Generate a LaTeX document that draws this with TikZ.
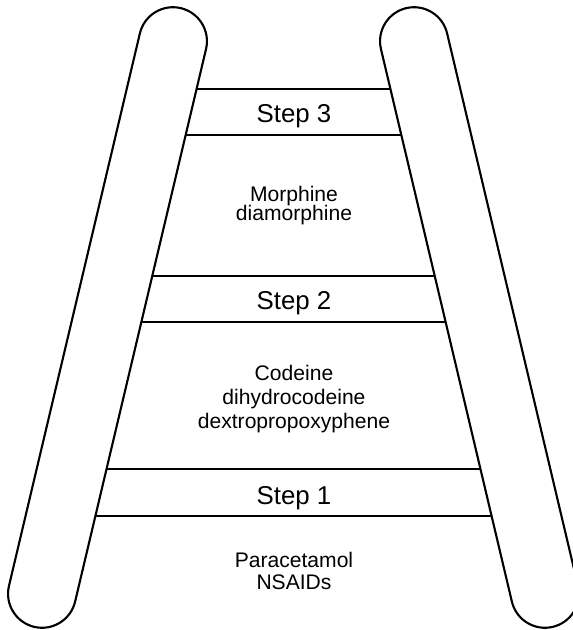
\documentclass[tikz,border=0pt]{standalone}
\usepackage{fontspec}
\setmainfont{Liberation Sans}
\usetikzlibrary{positioning}

\begin{document}
\begin{tikzpicture}[
  x=0.02cm, y=0.02cm, line width=1.2pt,
  rail/.style={draw, rounded corners=0.68cm, minimum width=1.36cm, minimum height=12.72cm, inner sep=0pt, outer sep=0pt},
  steplabel/.style={font=\fontsize{14.7}{17}\selectfont},
  drugs/.style={font=\fontsize{12}{13.6}\selectfont, align=center}
]
\clip (0,0) rectangle (573,630);
% the two rails
\node[rail, rotate=-13.33] (lrail) at (107.5,312.5) {};
\node[rail, rotate=13.33]  (rrail) at (479.5,312.5) {};
% rungs, from inner edge to inner edge
\foreach \y in {541,495,354,308,161,114}
  \draw (intersection of lrail.north east--lrail.south east and 0,\y--1,\y)
     -- (intersection of rrail.north west--rrail.south west and 0,\y--1,\y);
\node[steplabel] (s3) at (294,513.5) {Step 3};
\node[steplabel] (s2) at (294,326.5) {Step 2};
\node[steplabel] (s1) at (294,131.5) {Step 1};
\node[drugs] (d3) at (294,424.5) {Morphine\\[-3pt]diamorphine};
\node[drugs] (d2) at (294,231)   {Codeine\\dihydrocodeine\\dextropropoxyphene};
\node[drugs] (d1) at (294,59)    {Paracetamol\\[-0.6pt]NSAIDs};
\end{tikzpicture}
\end{document}
